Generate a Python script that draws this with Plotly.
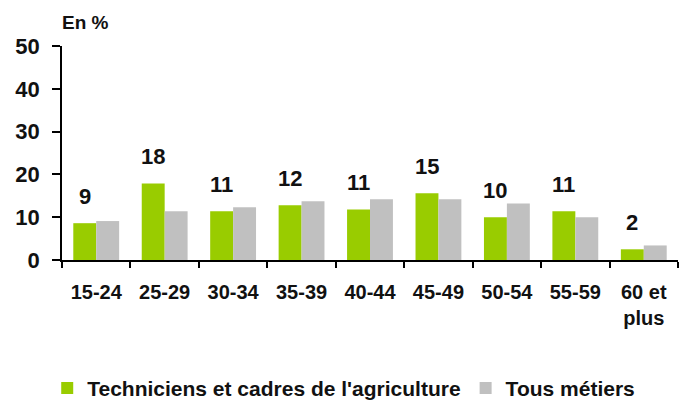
import plotly.graph_objects as go

# tranches d'âge
categories = ['15-24', '25-29', '30-34', '35-39', '40-44', '45-49', '50-54', '55-59', '60 et<br>plus']
# Techniciens et cadres de l'agriculture (en %)
agri = [8.6, 17.9, 11.4, 12.8, 11.8, 15.6, 10.0, 11.4, 2.5]
agri_labels = ['9', '18', '11', '12', '11', '15', '10', '11', '2']
# Tous métiers (en %)
tous = [9.1, 11.4, 12.3, 13.7, 14.2, 14.2, 13.2, 10.0, 3.4]

FONT = 'Liberation Sans, Arial, sans-serif'

fig = go.Figure()
fig.add_trace(go.Bar(x=categories, y=agri, name="<b>Techniciens et cadres de l'agriculture</b>",
                     marker=dict(color='#99cc00', line=dict(width=0))))
fig.add_trace(go.Bar(x=categories, y=tous, name='<b>Tous métiers</b>',
                     marker=dict(color='#c0c0c0', line=dict(width=0))))

# étiquettes au-dessus des barres vertes
for c, v, t in zip(categories, agri, agri_labels):
    fig.add_annotation(x=c, y=v, text='<b>%s</b>' % t, showarrow=False,
                       xshift=-11.5, yshift=27, yanchor='middle',
                       font=dict(family=FONT, size=22, color='#111111'))

fig.add_annotation(x=0, y=1.11, xref='paper', yref='paper', text='<b>En %</b>',
                   showarrow=False, xanchor='left', yanchor='middle', xshift=-2,
                   font=dict(family=FONT, size=19, color='#111111'))

# la page ajoute une marge de 8 px autour de la figure
fig.update_layout(
    width=680, height=395,
    margin=dict(l=54, r=10, t=38, b=143, autoexpand=False),
    paper_bgcolor='white', plot_bgcolor='white',
    barmode='group', bargap=0.33, bargroupgap=0,
    showlegend=True,
    legend=dict(orientation='h', x=-0.024, xanchor='left', y=-0.6, yanchor='middle',
                font=dict(family=FONT, size=21, color='#111111'),
                itemwidth=30, traceorder='normal'),
    font=dict(family=FONT, color='#111111'),
)
fig.update_yaxes(range=[0, 50], dtick=10, showgrid=False, zeroline=False, automargin=False,
                 showline=True, linecolor='#000000', linewidth=1.5,
                 ticks='outside', ticklen=8, tickcolor='#000000', tickwidth=1.5,
                 ticklabelstandoff=8,
                 tickfont=dict(family=FONT, size=22, color='#111111'),
                 tickprefix='<b>', ticksuffix='</b>')
fig.update_xaxes(showgrid=False, showline=True, linecolor='#000000', linewidth=1.5,
                 automargin=False,
                 ticks='outside', tickson='boundaries', ticklen=6, tickcolor='#000000',
                 tickwidth=1.5, ticklabelstandoff=13,
                 tickfont=dict(family=FONT, size=20, color='#111111'),
                 tickprefix='<b>', ticksuffix='</b>')

fig.write_html('out.html')
